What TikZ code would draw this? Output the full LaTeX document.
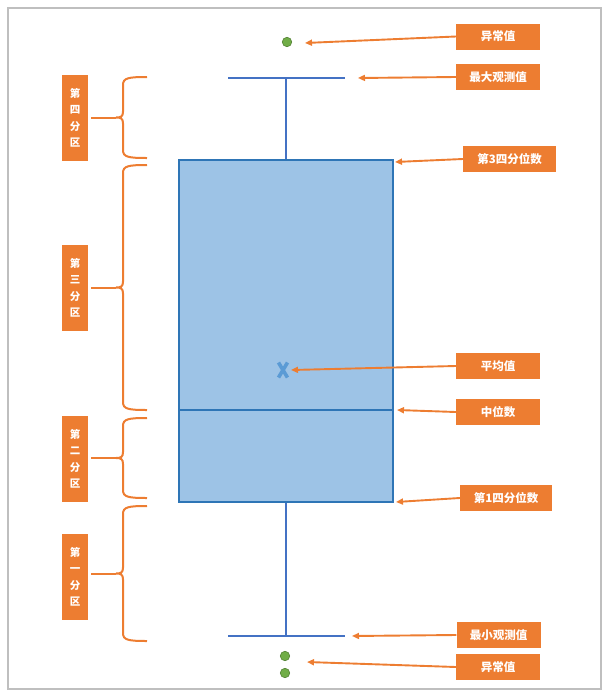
\documentclass[tikz,border=0pt]{standalone}
\usepackage{fontspec}
\setmainfont{Liberation Sans}
\newfontfamily\cjk{Noto Sans CJK SC}
\usetikzlibrary{arrows.meta}

\definecolor{tagorange}{HTML}{ED7D31}
\definecolor{boxfill}{HTML}{9DC3E6}
\definecolor{boxline}{HTML}{2E75B6}
\definecolor{whiskline}{HTML}{4472C4}
\definecolor{dotgreen}{HTML}{70AD47}
\definecolor{dotline}{HTML}{548235}
\definecolor{meanblue}{HTML}{5B9BD5}

\begin{document}
\begin{tikzpicture}[x=1pt,y=-1pt,
    tag/.style={fill=tagorange,text=white,inner sep=0pt,minimum width=84pt,minimum height=26pt,
      font=\cjk\bfseries\fontsize{11.5}{13}\selectfont},
    vtag/.style={fill=tagorange,text=white,inner sep=0pt,minimum width=26pt,minimum height=86pt,
      align=center,font=\cjk\bfseries\fontsize{10.5}{16.5}\selectfont},
    pointer/.style={draw=tagorange,line width=1.9pt,-{Triangle[length=7pt,width=6pt]}},
    brc/.style={draw=tagorange,line width=2pt},
    outlier/.style={circle,fill=dotgreen,draw=dotline,line width=0.6pt,minimum size=9.5pt,inner sep=0pt}]
  \useasboundingbox (0,0) rectangle (610,697);
  \draw[black!25,line width=1.2pt] (8,8) rectangle (601,689);

  % box and whiskers
  \draw[whiskline,line width=2pt] (286,78) -- (286,160);
  \draw[whiskline,line width=2pt] (286,502) -- (286,636);
  \draw[whiskline,line width=2pt] (228,78) -- (345,78);
  \draw[whiskline,line width=2pt] (228,636) -- (345,636);
  \draw[boxline,fill=boxfill,line width=2.2pt] (179,160) rectangle (393,502);
  \draw[boxline,line width=1.8pt] (179,410) -- (393,410);
  \node[outlier] (o1) at (287,42) {};
  \node[outlier] (o2) at (285,656) {};
  \node[outlier] (o3) at (285,673) {};
  \coordinate (mn) at (283,370);
  \draw[meanblue,line width=3.6pt] (278.5,362.5) -- (287.5,377.5);
  \draw[meanblue,line width=3.6pt] (287.5,362.5) -- (278.5,377.5);

  % points the labels refer to
  \coordinate (p1) at (305,43);
  \coordinate (p2) at (358,78);
  \coordinate (p3) at (395,162);
  \coordinate (p4) at (291,370);
  \coordinate (p5) at (397,410);
  \coordinate (p6) at (396,502);
  \coordinate (p7) at (352,636);
  \coordinate (p8) at (307,662);

  % labels on the right
  \node[tag] (out1) at (498,36.5) {异常值};
  \node[tag] (maxv) at (498,77) {最大观测值};
  \node[tag,minimum width=93pt] (q3) at (509.5,159) {第3四分位数};
  \node[tag] (mean) at (498,366) {平均值};
  \node[tag] (med) at (498,412) {中位数};
  \node[tag,minimum width=92pt] (q1) at (506,498) {第1四分位数};
  \node[tag] (minv) at (498.5,635) {最小观测值};
  \node[tag] (out2) at (498,667) {异常值};

  \draw[pointer] (out1.west) -- (p1);
  \draw[pointer] (maxv.west) -- (p2);
  \draw[pointer] (q3.west) -- (p3);
  \draw[pointer] (mean.west) -- (p4);
  \draw[pointer] (med.west) -- (p5);
  \draw[pointer] (q1.west) -- (p6);
  \draw[pointer] (minv.west) -- (p7);
  \draw[pointer] (out2.west) -- (p8);

  % parts on the left
  \foreach \t/\b/\n/\ty/\lbl in {77/158/four/118/第\\四\\分\\区,165/410/three/288/第\\三\\分\\区,
      418/498/two/459/第\\二\\分\\区,506/641/one/577/第\\一\\分\\区}{
    \pgfmathsetmacro\m{(\t+\b)/2}
    \node[vtag] (part\n) at (75,\ty) {\lbl};
    \coordinate (tip\n) at (116,\m);
    \draw[brc] (147,\t) .. controls (128,\t) and (123,\t+1) .. (123,\t+8)
      -- (123,\m-6) .. controls (123,\m-1) and (121,\m) .. (tip\n)
      .. controls (121,\m) and (123,\m+1) .. (123,\m+6)
      -- (123,\b-8) .. controls (123,\b-1) and (128,\b) .. (147,\b);
    \draw[brc] (part\n.east |- tip\n) ++(3,0) -- (tip\n);
  }
\end{tikzpicture}
\end{document}
